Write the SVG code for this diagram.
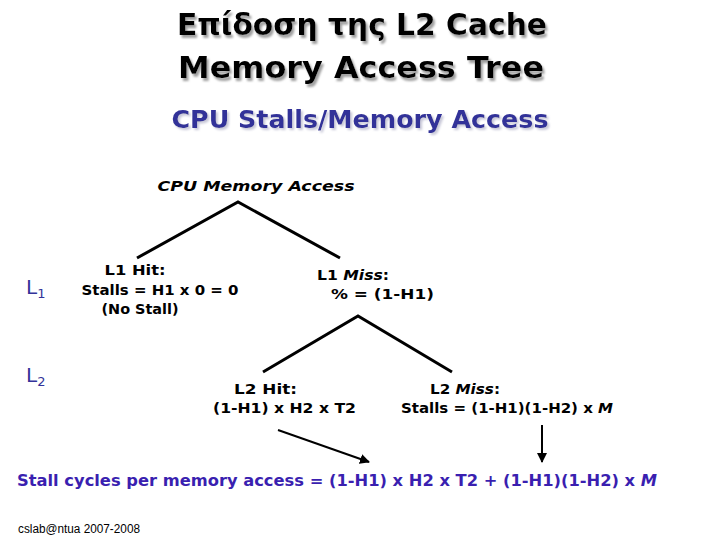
<svg xmlns="http://www.w3.org/2000/svg" width="720" height="540" viewBox="0 0 720 540">
<defs>
<style>
text{font-family:"DejaVu Sans","Liberation Sans",sans-serif;}
.title{font-size:30px;font-weight:bold;fill:#000;filter:url(#sh);}
.sub{font-size:24px;font-weight:bold;fill:#333399;filter:url(#sh2);}
.node{font-size:14px;font-weight:bold;fill:#000;}
.lvl{font-size:20px;fill:#333399;}
.formula{font-size:16px;font-weight:bold;fill:#3a1fb0;}
.foot{font-family:"Liberation Sans Narrow","Liberation Sans",sans-serif;font-size:12px;fill:#000;}
.edge{stroke:#000;stroke-width:3;fill:none;}
.arr{stroke:#000;stroke-width:2;fill:none;marker-end:url(#ah);}
</style>
<filter id="sh" x="-5%" y="-20%" width="110%" height="150%">
<feDropShadow dx="2" dy="3" stdDeviation="0.8" flood-color="#a0a0a0" flood-opacity="1"/>
</filter>
<filter id="sh2" x="-5%" y="-20%" width="110%" height="150%">
<feDropShadow dx="2" dy="2" stdDeviation="0.8" flood-color="#c8c8d8" flood-opacity="1"/>
</filter>
<marker id="ah" viewBox="0 0 10 10" refX="9" refY="5" markerWidth="5" markerHeight="5" orient="auto" markerUnits="strokeWidth">
<path d="M0,0 L10,5 L0,10 z" fill="#000"/>
</marker>
</defs>
<rect width="720" height="540" fill="#fff"/>
<g id="title">
<text class="title" x="362" y="35" text-anchor="middle" textLength="370" lengthAdjust="spacingAndGlyphs">Επίδοση της L2 Cache</text>
<text class="title" x="361" y="78" text-anchor="middle" textLength="366" lengthAdjust="spacingAndGlyphs">Memory Access Tree</text>
<text class="sub" x="360" y="128" text-anchor="middle" textLength="377" lengthAdjust="spacingAndGlyphs">CPU  Stalls/Memory Access</text>
</g>
<g id="root">
<text class="node" x="256" y="191" text-anchor="middle" font-size="18" font-style="italic" font-weight="normal" textLength="197" lengthAdjust="spacingAndGlyphs">CPU Memory Access</text>
</g>
<g id="level-L1">
<text class="lvl" x="26" y="294">L<tspan font-size="13" dy="4">1</tspan></text>
</g>
<g id="level-L2">
<text class="lvl" x="26" y="382">L<tspan font-size="13" dy="4">2</tspan></text>
</g>
<g id="l1-hit">
<text class="node" x="135" y="275" text-anchor="middle" textLength="61" lengthAdjust="spacingAndGlyphs">L1  Hit:</text>
<text class="node" x="160" y="295" text-anchor="middle" textLength="157" lengthAdjust="spacingAndGlyphs">Stalls = H1 x 0 = 0</text>
<text class="node" x="140" y="314" text-anchor="middle" textLength="77" lengthAdjust="spacingAndGlyphs">(No Stall)</text>
</g>
<g id="l1-miss">
<text class="node" x="317" y="280" textLength="72" lengthAdjust="spacingAndGlyphs">L1  <tspan font-style="italic">Miss</tspan>:</text>
<text class="node" x="331" y="299" textLength="103" lengthAdjust="spacingAndGlyphs">%  =  (1-H1)</text>
</g>
<g id="l2-hit">
<text class="node" x="234" y="394" textLength="63" lengthAdjust="spacingAndGlyphs">L2  Hit:</text>
<text class="node" x="213" y="413" textLength="143" lengthAdjust="spacingAndGlyphs">(1-H1) x H2 x T2</text>
</g>
<g id="l2-miss">
<text class="node" x="430" y="394" textLength="70" lengthAdjust="spacingAndGlyphs">L2  <tspan font-style="italic">Miss</tspan>:</text>
<text class="node" x="401" y="413" textLength="212" lengthAdjust="spacingAndGlyphs">Stalls = (1-H1)(1-H2) x <tspan font-style="italic">M</tspan></text>
</g>
<g id="result">
<text class="formula" x="17" y="486" textLength="640" lengthAdjust="spacingAndGlyphs">Stall cycles per memory access = (1-H1) x H2 x T2 + (1-H1)(1-H2) x <tspan font-style="italic">M</tspan></text>
</g>
<g id="footer">
<text class="foot" x="18" y="533" textLength="122" lengthAdjust="spacingAndGlyphs">cslab@ntua 2007-2008</text>
</g>
<g id="connectors">
<polyline class="edge" points="137,258 238,202 340,258"/>
<polyline class="edge" points="263,372 358,316 452,372"/>
<line class="arr" x1="278" y1="430" x2="369" y2="462"/>
<line class="arr" x1="542" y1="425" x2="542" y2="462"/>
</g>
</svg>
